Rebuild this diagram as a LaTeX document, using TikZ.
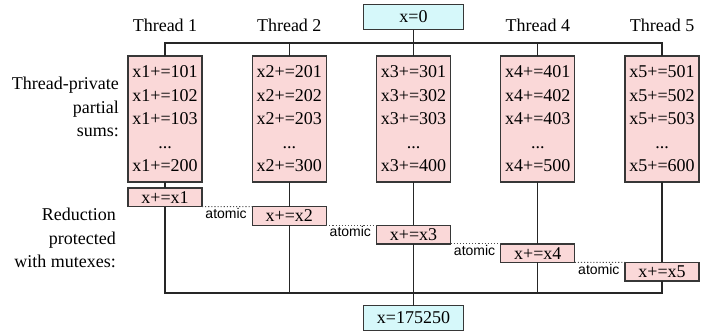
\documentclass[tikz,border=0pt]{standalone}
\usepackage{fontspec}
\setmainfont{Liberation Serif}
\setsansfont{Liberation Sans}
\definecolor{sumpink}{RGB}{250,216,216}
\definecolor{valuecyan}{RGB}{214,248,250}
\definecolor{boxedge}{RGB}{55,55,55}
\tikzset{
	reduction/.is family,
	reduction/.cd,
	box/.style = {
		draw = boxedge,
		line width = 1.4pt,
		inner sep = 0pt,
		outer sep = 0pt,
		font = \rmfamily\fontsize{18}{23.5}\selectfont,
	},
	partial sum/.style = {
		reduction/box,
		fill = sumpink,
		align = center,
		minimum width = 74pt,
		minimum height = 126pt,
	},
	atomic add/.style = {
		reduction/box,
		fill = sumpink,
		minimum width = 74pt,
		minimum height = 18.6pt,
	},
	value/.style = {
		reduction/box,
		fill = valuecyan,
		minimum width = 100pt,
		minimum height = 25pt,
	},
	thread/.style = {
		font = \rmfamily\fontsize{18}{23.5}\selectfont,
	},
	side label/.style = {
		align = right,
		anchor = east,
		inner sep = 0pt,
		font = \rmfamily\fontsize{18}{23.5}\selectfont,
	},
	wire/.style = {
		draw = black!85,
		line width = 1.4pt,
	},
	atomic link/.style = {
		draw = black!70,
		line width = 1.1pt,
		dotted,
	},
	atomic label/.style = {
		anchor = north east,
		inner sep = 1pt,
		xshift = -4pt,
		font = \sffamily\fontsize{14}{14}\selectfont,
	},
}

\begin{document}
\begin{tikzpicture}[x = 1pt, y = -1pt]
	\useasboundingbox (0, 0) rectangle (703, 330);

	\node[reduction/value] (init) at (413.5, 17) {x=0};
	\node[reduction/thread] (thread1) at (165, 25) {Thread 1};
	\node[reduction/thread] (thread2) at (289.25, 25) {Thread 2};
	\node[reduction/thread] (thread4) at (537.75, 25) {Thread 4};
	\node[reduction/thread] (thread5) at (662, 25) {Thread 5};

	\node[reduction/side label] (private label) at (119, 107) {Thread-private\\partial\\sums:};
	\node[reduction/side label] (mutex label) at (116, 238) {Reduction\\protected\\with mutexes:};

	\node[reduction/partial sum] (sum1) at (165, 119) {x1+=101\\x1+=102\\x1+=103\\...\\x1+=200};
	\node[reduction/partial sum] (sum2) at (289.25, 119) {x2+=201\\x2+=202\\x2+=203\\...\\x2+=300};
	\node[reduction/partial sum] (sum3) at (413.5, 119) {x3+=301\\x3+=302\\x3+=303\\...\\x3+=400};
	\node[reduction/partial sum] (sum4) at (537.75, 119) {x4+=401\\x4+=402\\x4+=403\\...\\x4+=500};
	\node[reduction/partial sum] (sum5) at (662, 119) {x5+=501\\x5+=502\\x5+=503\\...\\x5+=600};

	\node[reduction/atomic add] (add1) at (165, 197.3) {x+=x1};
	\node[reduction/atomic add] (add2) at (289.25, 215.9) {x+=x2};
	\node[reduction/atomic add] (add3) at (413.5, 234.5) {x+=x3};
	\node[reduction/atomic add] (add4) at (537.75, 253.1) {x+=x4};
	\node[reduction/atomic add] (add5) at (662, 271.7) {x+=x5};

	\node[reduction/value] (result) at (413.5, 318) {x=175250};

	\coordinate (fork) at (413.5, 43);
	\coordinate (join) at (413.5, 293);

	% fork out to the threads
	\draw[reduction/wire] (sum1.north) |- (fork) -| (sum5.north);
	\draw[reduction/wire] (init) -- (sum3);
	\draw[reduction/wire] (sum2.north) -- (sum2.north |- fork);
	\draw[reduction/wire] (sum4.north) -- (sum4.north |- fork);

	\draw[reduction/wire] (sum1) -- (add1);
	\draw[reduction/wire] (sum2) -- (add2);
	\draw[reduction/wire] (sum3) -- (add3);
	\draw[reduction/wire] (sum4) -- (add4);
	\draw[reduction/wire] (sum5) -- (add5);

	% join back into x
	\draw[reduction/wire] (add1) |- (join) -| (add5);
	\draw[reduction/wire] (add2) -- (add2 |- join);
	\draw[reduction/wire] (add4) -- (add4 |- join);
	\draw[reduction/wire] (add3) -- (result);

	\draw[reduction/atomic link] (add1.south east) -- (add2.north west) node[reduction/atomic label] {atomic};
	\draw[reduction/atomic link] (add2.south east) -- (add3.north west) node[reduction/atomic label] {atomic};
	\draw[reduction/atomic link] (add3.south east) -- (add4.north west) node[reduction/atomic label] {atomic};
	\draw[reduction/atomic link] (add4.south east) -- (add5.north west) node[reduction/atomic label] {atomic};
\end{tikzpicture}
\end{document}
